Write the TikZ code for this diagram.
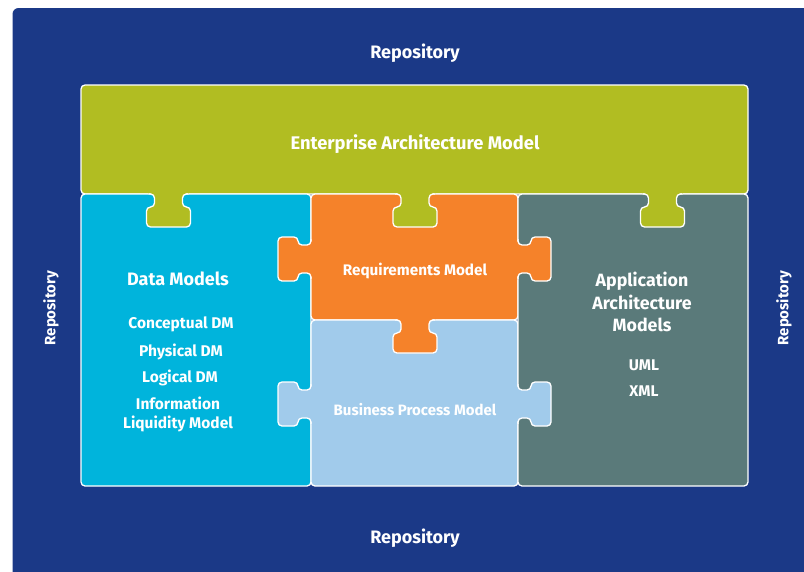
\documentclass[tikz,border=0pt]{standalone}
\usepackage{fontspec}
\setmainfont{Fira Sans}
\definecolor{repoblau}{HTML}{1B3987}
\definecolor{eamgruen}{HTML}{B1BD22}
\definecolor{dmblau}{HTML}{00B4DC}
\definecolor{reqorange}{HTML}{F5822A}
\definecolor{bpmblau}{HTML}{A1CBEB}
\definecolor{appgrau}{HTML}{5A7A7A}

\tikzset{
  baustein/.style={draw=white, line width=1.3pt, rounded corners=4pt},
  etikett/.style={text=white, font=\bfseries, align=center, inner sep=0pt},
  pics/nase/.style={code={
    \fill[#1, rounded corners=4pt] (-20,-4) -- (-20,0) -- (-14,0) -- (-14,13) -- (-22,13)
      -- (-22,33) -- (22,33) -- (22,13) -- (14,13) -- (14,0) -- (20,0) -- (20,-4) -- cycle;
    \draw[white, line width=1.3pt, rounded corners=4pt] (-20,0) -- (-14,0) -- (-14,13)
      -- (-22,13) -- (-22,33) -- (22,33) -- (22,13) -- (14,13) -- (14,0) -- (20,0);
  }}
}

\begin{document}
\begin{tikzpicture}[x=1pt, y=-1pt]
\useasboundingbox (0,0) rectangle (804,571);
% Hintergrund
\fill[repoblau, rounded corners=6pt] (12.5,8) rectangle (830,600);

% Bausteine
\draw[baustein, fill=eamgruen]  (81,85)   rectangle (748,194);
\draw[baustein, fill=dmblau]    (81,194)  rectangle (311,486);
\draw[baustein, fill=reqorange] (311,194) rectangle (518,320);
\draw[baustein, fill=bpmblau]   (311,320) rectangle (518,486);
\draw[baustein, fill=appgrau]   (518,194) rectangle (748,486);

% Nasen
\pic at (168.5,194) {nase=eamgruen};
\pic at (415,194)   {nase=eamgruen};
\pic at (662.5,194) {nase=eamgruen};
\pic[rotate=-90] at (311,259) {nase=reqorange};
\pic[rotate=90]  at (518,259) {nase=reqorange};
\pic at (415,320) {nase=reqorange};
\pic[rotate=-90] at (311,404) {nase=bpmblau};
\pic[rotate=90]  at (518,404) {nase=bpmblau};

% Repository
\node[etikett, font=\bfseries\fontsize{18}{21}\selectfont] (repoO) at (415,53.5)  {Repository};
\node[etikett, font=\bfseries\fontsize{18}{21}\selectfont] (repoU) at (415,538.5) {Repository};
\node[etikett, font=\bfseries\fontsize{15}{18}\selectfont, rotate=90] (repoL) at (51,308)  {Repository};
\node[etikett, font=\bfseries\fontsize{15}{18}\selectfont, rotate=90] (repoR) at (784,308) {Repository};

% Beschriftungen
\node[etikett, font=\bfseries\fontsize{18.3}{22}\selectfont] (eam) at (415,144.5) {Enterprise Architecture Model};
\node[etikett, font=\bfseries\fontsize{18}{22}\selectfont] (dm) at (178,279) {Data Models};
\node[etikett, font=\bfseries\fontsize{15.5}{19}\selectfont] (cdm) at (181,324.5) {Conceptual DM};
\node[etikett, font=\bfseries\fontsize{15.5}{19}\selectfont] (pdm) at (181,351.5) {Physical DM};
\node[etikett, font=\bfseries\fontsize{15.5}{19}\selectfont] (ldm) at (180,377.5) {Logical DM};
\node[etikett, font=\bfseries\fontsize{15.5}{19}\selectfont] (ilm) at (178,414) {Information\\Liquidity Model};
\node[etikett, font=\bfseries\fontsize{15.3}{18}\selectfont] (req) at (415,270.5) {Requirements Model};
\node[etikett, font=\bfseries\fontsize{15}{18}\selectfont] (bpm) at (415,409.5) {Business Process Model};
\node[etikett, font=\bfseries\fontsize{17.8}{22.5}\selectfont] (aam) at (642,302) {Application\\Architecture\\Models};
\node[etikett, font=\bfseries\fontsize{15.5}{19}\selectfont] (uml) at (644,365) {UML};
\node[etikett, font=\bfseries\fontsize{15.5}{19}\selectfont] (xml) at (644,391) {XML};
\end{tikzpicture}
\end{document}
